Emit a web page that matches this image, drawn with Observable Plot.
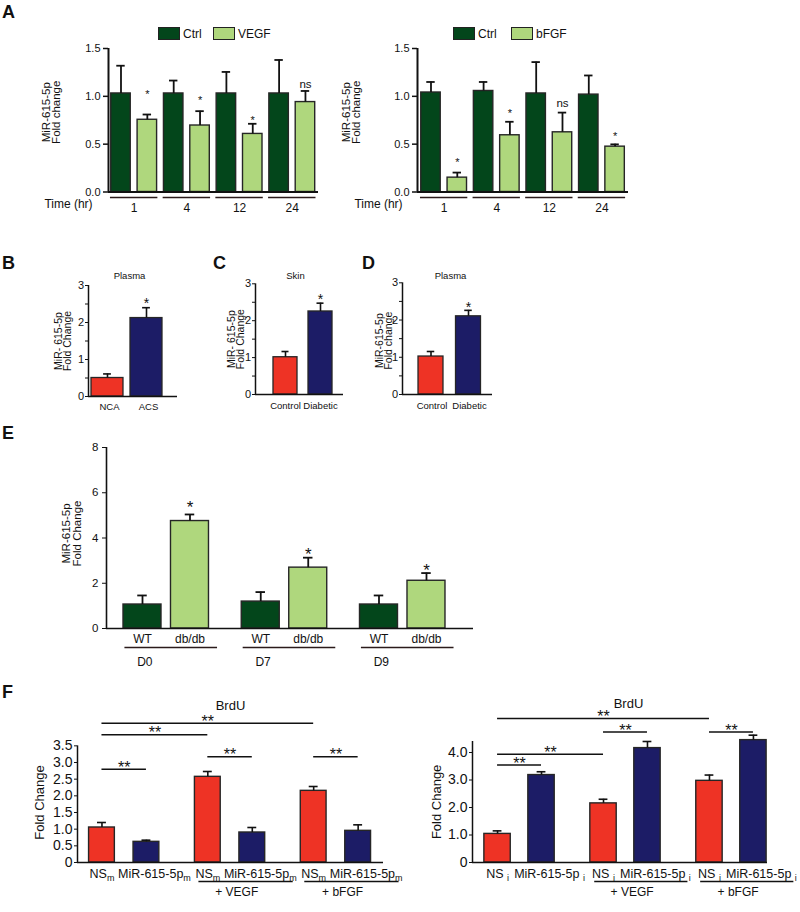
<!DOCTYPE html>
<html>
<head>
<meta charset="utf-8">
<script src="https://cdn.jsdelivr.net/npm/d3@7"></script>
<script src="https://cdn.jsdelivr.net/npm/@observablehq/plot@0.6"></script>
<style>
html,body{margin:0;padding:0;background:#fff;}
#fig{position:relative;width:800px;height:912px;overflow:hidden;font-family:"Liberation Sans",Arial,Helvetica,sans-serif;color:#111;}
.letter{position:absolute;font-weight:bold;font-size:18px;line-height:1;}
.sw{position:absolute;width:22px;height:13px;box-sizing:border-box;border:1.5px solid #222;}
.lg{position:absolute;font-size:12px;line-height:1;}
</style>
</head>
<body>
<div id="fig"></div>
<script>
// ================= DATA =================
// Panel A — MiR-615-5p fold change over time
const aTimes = ["1", "4", "12", "24"];
const aCtrlV = [1.03, 1.03, 1.03, 1.03];
const aCtrlVErr = [1.32, 1.165, 1.255, 1.38];
const aVEGF = [0.755, 0.695, 0.607, 0.94];
const aVEGFErr = [0.81, 0.845, 0.713, 1.056];
const aVEGFSig = ["*", "*", "*", "ns"];
const aVEGFSigY = [1.018, 0.96, 0.75, 1.10];
const aCtrlB = [1.04, 1.056, 1.03, 1.018];
const aCtrlBErr = [1.15, 1.15, 1.358, 1.218];
const aBFGF = [0.15, 0.593, 0.624, 0.474];
const aBFGFErr = [0.203, 0.734, 0.83, 0.498];
const aBFGFSig = ["*", "*", "ns", "*"];
const aBFGFSigY = [0.31, 0.82, 0.91, 0.58];

// Panel B — Plasma
const bLabels = ["NCA", "ACS"];
const bVals = [0.50, 2.12];
const bErr = [0.61, 2.40];
const bSig = ["", "*"];
const bSigY = [0, 2.61];
// Panel C — Skin
const cLabels = ["Control", "Diabetic"];
const cVals = [1.01, 2.25];
const cErr = [1.165, 2.475];
const cSig = ["", "*"];
const cSigY = [0, 2.68];
// Panel D — Plasma
const dLabels = ["Control", "Diabetic"];
const dVals = [1.02, 2.10];
const dErr = [1.155, 2.26];
const dSig = ["", "*"];
const dSigY = [0, 2.43];

// Panel E
const eDays = ["D0", "D7", "D9"];
const eGenos = ["WT", "db/db"];
const eWT = [1.06, 1.19, 1.06];
const eWTErr = [1.46, 1.61, 1.46];
const eDb = [4.75, 2.69, 2.11];
const eDbErr = [5.04, 3.13, 2.45];
const eSigY = [5.52, 3.45, 2.74];

// Panel F (left, mimic)
const fTreat = ["", "+ VEGF", "+ bFGF"];
const fCondL = ["NS_m", "MiR-615-5p_m"];
const fNSL = [1.05, 2.57, 2.15];
const fNSLErr = [1.20, 2.73, 2.28];
const fMiRL = [0.62, 0.90, 0.95];
const fMiRLErr = [0.67, 1.05, 1.13];
const fBrLFrom = [0, 0, 2, 4, 0];
const fBrLTo = [4, 2, 3, 5, 1];
const fBrLY = [4.18, 3.83, 3.17, 3.17, 2.80];
const fTicksL = [0, 0.5, 1, 1.5, 2, 2.5, 3, 3.5];
// Panel F (right, inhibitor)
const fCondR = ["NS _i", "MiR-615-5p _i"];
const fNSR = [1.04, 2.15, 2.97];
const fNSRErr = [1.15, 2.30, 3.18];
const fMiRR = [3.18, 4.16, 4.45];
const fMiRRErr = [3.30, 4.40, 4.63];
const fBrRFrom = [0, 2, 4, 0, 0];
const fBrRTo = [4, 3, 5, 2, 1];
const fBrRY = [5.24, 4.75, 4.75, 3.94, 3.55];
const fTicksR = [0, 1, 2, 3, 4];

// ================= STYLE / LAYOUT =================
const FONT = "'Liberation Sans', Arial, Helvetica, sans-serif";
const DARK = "#03461b", LIGHT = "#afd77d", RED = "#ee3325", NAVY = "#1c1c66";
const INK = "#111", EDGE = "#262626", ULINE = "#2b1b1b";
const fig = document.getElementById("fig");

function applySubscripts(svg) {
  svg.querySelectorAll("text").forEach(t => {
    if (t.children.length === 0 && t.textContent.includes("_")) {
      const [a, b] = t.textContent.split("_");
      t.textContent = a;
      const s = document.createElementNS("http://www.w3.org/2000/svg", "tspan");
      s.setAttribute("font-size", "0.72em");
      s.setAttribute("dy", "0.32em");
      s.textContent = b;
      t.appendChild(s);
    }
  });
}
function makePanel(c) {
  const svg = Plot.plot({
    width: c.width, height: c.height,
    marginLeft: c.axisX - c.left, marginRight: c.left + c.width - c.axisEnd,
    marginTop: c.yTopPx - c.top, marginBottom: c.top + c.height - c.yZeroPx,
    x: {type: "linear", domain: c.xDomain, axis: null},
    y: {type: "linear", domain: [0, c.yMax]},
    color: {type: "identity"},
    style: {fontFamily: FONT, fontSize: c.fontSize + "px", color: INK, background: "transparent", overflow: "visible"},
    marks: c.marks
  });
  Object.assign(svg.style, {position: "absolute", left: c.left + "px", top: c.top + "px", overflow: "visible"});
  applySubscripts(svg);
  fig.appendChild(svg);
}
function bars(rows, hw, cap, sw = 1.5, esw = 1.7) {
  return [
    Plot.rect(rows, {x1: d => d.pos - hw, x2: d => d.pos + hw, y1: () => 0, y2: d => d.v, fill: d => d.fill, stroke: EDGE, strokeWidth: sw}),
    Plot.ruleX(rows, {x: d => d.pos, y1: d => d.v, y2: d => d.e, stroke: INK, strokeWidth: esw}),
    Plot.ruleY(rows, {y: d => d.e, x1: d => d.pos - cap, x2: d => d.pos + cap, stroke: INK, strokeWidth: esw})
  ];
}
function axisLines(x0, yTop, sw) {
  return [
    Plot.ruleY([0], {stroke: INK, strokeWidth: sw}),
    Plot.ruleX([x0], {y1: () => 0, y2: () => yTop, stroke: INK, strokeWidth: sw})
  ];
}
function yLabel(txt, dx, dy, fs, lh) {
  return Plot.text([txt], {frameAnchor: "left", rotate: -90, text: d => d, dx, dy, fontSize: fs, lineHeight: lh, textAnchor: "middle", lineAnchor: "middle"});
}
function letter(t, x, y) {
  const d = document.createElement("div"); d.className = "letter"; d.textContent = t;
  d.style.left = x + "px"; d.style.top = y + "px"; fig.appendChild(d);
}
function legendItem(color, label, x, y) {
  const s = document.createElement("div"); s.className = "sw"; s.style.background = color;
  s.style.left = x + "px"; s.style.top = y + "px"; fig.appendChild(s);
  const t = document.createElement("div"); t.className = "lg"; t.textContent = label;
  t.style.left = (x + 25) + "px"; t.style.top = (y + 0.5) + "px"; fig.appendChild(t);
}

// ================= PANEL A =================
function panelA(cfg, ctrl, ctrlErr, trt, trtErr, sig, sigY, timeDx) {
  const rows = [], sigRows = [], groups = [];
  aTimes.forEach((t, i) => {
    rows.push({pos: 2 * i, v: ctrl[i], e: ctrlErr[i], fill: DARK});
    rows.push({pos: 2 * i + 1, v: trt[i], e: trtErr[i], fill: LIGHT});
    sigRows.push({pos: 2 * i + 1, y: sigY[i], t: sig[i]});
    groups.push({a: 2 * i, b: 2 * i + 1, label: t});
  });
  const hw = 0.37, cap = 0.16;
  makePanel({...cfg, yMax: 1.5, fontSize: 11, marks: [
    ...bars(rows, hw, cap, 1.4, 1.8),
    ...axisLines(cfg.xDomain[0], 1.5, 2),
    Plot.axisY([0, 0.5, 1, 1.5], {tickSize: 5, tickPadding: 3, tickFormat: ".1f", label: null, fontSize: 11, strokeWidth: 1.5}),
    Plot.text(sigRows.filter(d => d.t === "*"), {x: "pos", y: "y", text: "t", fontSize: 11, dy: 0}),
    Plot.text(sigRows.filter(d => d.t !== "*"), {x: "pos", y: "y", text: "t", fontSize: 11.5, dy: -2}),
    Plot.ruleY(groups, {y: () => 0, x1: d => d.a - hw - 0.03, x2: d => d.b + hw + 0.03, dy: 5.5, stroke: ULINE, strokeWidth: 1.6}),
    Plot.text(groups, {x: d => (d.a + d.b) / 2, y: () => 0, text: "label", dy: 16, fontSize: 12}),
    Plot.text(["Time (hr)"], {frameAnchor: "bottom-left", text: d => d, dx: timeDx, dy: 16, fontSize: 12, textAnchor: "middle"}),
    yLabel("MiR-615-5p\nFold change", cfg.ylDx, -8, 11.5, 0.95)
  ]});
}
panelA({left: 0, top: 40, width: 330, height: 185, axisX: 108, axisEnd: 318, yTopPx: 48, yZeroPx: 191.5, xDomain: [-0.474, 7.495], ylDx: -57},
  aCtrlV, aCtrlVErr, aVEGF, aVEGFErr, aVEGFSig, aVEGFSigY, -40);
panelA({left: 330, top: 40, width: 310, height: 185, axisX: 417, axisEnd: 628, yTopPx: 48, yZeroPx: 191.5, xDomain: [-0.513, 7.51], ylDx: -66},
  aCtrlB, aCtrlBErr, aBFGF, aBFGFErr, aBFGFSig, aBFGFSigY, -39);
legendItem(DARK, "Ctrl", 158, 27);
legendItem(LIGHT, "VEGF", 213, 27);
legendItem(DARK, "Ctrl", 453, 27);
legendItem(LIGHT, "bFGF", 511, 27);

// ================= PANELS B, C, D =================
function panelSmall(cfg, labels, vals, errs, sig, sigY, title, ylab) {
  const rows = labels.map((l, i) => ({pos: i, v: vals[i], e: errs[i], fill: i === 0 ? RED : NAVY, label: l, t: sig[i], y: sigY[i]}));
  makePanel({...cfg, yMax: 3, fontSize: 10, marks: [
    ...bars(rows, cfg.hw, cfg.cap, 1.3, 1.6),
    ...axisLines(cfg.xDomain[0], 3, 1.5),
    Plot.axisY([0, 1, 2, 3], {tickSize: 3, tickPadding: 1.5, tickFormat: "d", label: null, fontSize: 11}),
    Plot.axisY([0.5, 1.5, 2.5], {tickSize: 3, tickFormat: () => "", label: null}),
    Plot.text(rows.filter(d => d.t), {x: "pos", y: "y", text: "t", fontSize: 14, dy: 3.5}),
    Plot.text(rows, {x: "pos", y: () => 0, text: "label", dx: cfg.labDx, dy: cfg.labDy, fontSize: 9.5}),
    Plot.text([title], {frameAnchor: "top", text: d => d, dx: cfg.tDx, dy: cfg.tDy, fontSize: 9.5}),
    yLabel(ylab, cfg.ylDx, cfg.ylDy, 10.5, 0.85)
  ]});
}
panelSmall({left: 20, top: 262, width: 170, height: 155, axisX: 88, axisEnd: 177, yTopPx: 285, yZeroPx: 396, xDomain: [-0.487, 1.795], hw: 0.41, cap: 0.1, labDx: 2, labDy: 10.5, tDx: -3.5, tDy: -13, ylDx: -25, ylDy: 0},
  bLabels, bVals, bErr, bSig, bSigY, "Plasma", "MiR- 615-5p\nFold Change");
panelSmall({left: 200, top: 262, width: 155, height: 155, axisX: 255, axisEnd: 343, yTopPx: 283.3, yZeroPx: 394, xDomain: [-0.857, 1.657], hw: 0.343, cap: 0.1, labDx: 0, labDy: 11, tDx: -4, tDy: -11.3, ylDx: -18.5, ylDy: 0},
  cLabels, cVals, cErr, cSig, cSigY, "Skin", "MiR- 615-5p\nFold Change");
panelSmall({left: 350, top: 262, width: 155, height: 155, axisX: 402, axisEnd: 492, yTopPx: 282.3, yZeroPx: 394, xDomain: [-0.76, 1.64], hw: 0.333, cap: 0.1, labDx: 1, labDy: 11, tDx: 3, tDy: -10.3, ylDx: -18, ylDy: 2},
  dLabels, dVals, dErr, dSig, dSigY, "Plasma", "MiR-615-5p\nFold change");

// ================= PANEL E =================
(function () {
  const gs = 2.49, hw = 0.4, cap = 0.1;
  const rows = [], sigRows = [], groups = [];
  eDays.forEach((day, g) => {
    rows.push({pos: g * gs, v: eWT[g], e: eWTErr[g], fill: DARK, label: eGenos[0]});
    rows.push({pos: g * gs + 1, v: eDb[g], e: eDbErr[g], fill: LIGHT, label: eGenos[1]});
    sigRows.push({pos: g * gs + 1, y: eSigY[g]});
    groups.push({a: g * gs, b: g * gs + 1, label: day});
  });
  makePanel({left: 20, top: 436, width: 470, height: 240, axisX: 106, axisEnd: 473, yTopPx: 447, yZeroPx: 628, xDomain: [-0.758, 6.97], yMax: 8, fontSize: 11, marks: [
    ...bars(rows, hw, cap, 1.4, 1.8),
    ...axisLines(-0.758, 8, 1.6),
    Plot.axisY([0, 2, 4, 6, 8], {tickSize: 4, tickPadding: 4, tickFormat: "d", label: null, fontSize: 11.5}),
    Plot.text(sigRows, {x: "pos", y: "y", text: () => "*", fontSize: 17, dy: 4.3}),
    Plot.text(rows, {x: "pos", y: () => 0, text: "label", dy: 10.5, fontSize: 12}),
    Plot.ruleY(groups, {y: () => 0, x1: d => d.a - 0.37, x2: d => d.b + 0.58, dy: 19, stroke: ULINE, strokeWidth: 1.5}),
    Plot.text(groups, {x: d => d.a + 0.05, y: () => 0, text: "label", dy: 34, fontSize: 12}),
    yLabel("MiR-615-5p\nFold Change", -34.5, -4.5, 11.5, 0.95)
  ]});
})();

// ================= PANEL F =================
function panelF(cfg, cond, ns, nsErr, mir, mirErr, brFrom, brTo, brY, ticks, axisTop, yMax) {
  const gs = cfg.gs, hw = cfg.hw, cap = 0.1;
  const rows = [], groups = [];
  const posOf = i => Math.floor(i / 2) * gs + (i % 2);
  fTreat.forEach((tr, g) => {
    rows.push({pos: g * gs, v: ns[g], e: nsErr[g], fill: RED, label: cond[0], k: 0});
    rows.push({pos: g * gs + 1, v: mir[g], e: mirErr[g], fill: NAVY, label: cond[1], k: 1});
    if (tr) groups.push({a: g * gs, b: g * gs + 1, label: tr});
  });
  const br = brFrom.map((f, i) => ({x1: posOf(f), x2: posOf(brTo[i]), y: brY[i]}));
  makePanel({...cfg, yMax, fontSize: 13, marks: [
    ...bars(rows, hw, cap, 1.4, 1.6),
    ...axisLines(cfg.xDomain[0], axisTop, 1.5),
    Plot.axisY(ticks, {tickSize: 3, tickPadding: 2, tickFormat: d => d === 0 ? "0" : d.toFixed(1), label: null, fontSize: 14}),
    Plot.ruleY(br, {x1: "x1", x2: "x2", y: "y", stroke: INK, strokeWidth: 1.5}),
    Plot.text(br, {x: d => (d.x1 + d.x2) / 2, y: "y", text: () => "**", fontSize: 16, dy: -1.5}),
    Plot.text(rows.filter(d => d.k === 0), {x: "pos", y: () => 0, text: "label", dy: 11.5, fontSize: 12.5}),
    Plot.text(rows.filter(d => d.k === 1), {x: "pos", y: () => 0, text: "label", dx: 8, dy: 11.5, fontSize: 12.5}),
    Plot.ruleY(groups, {y: () => 0, x1: d => d.a - 0.2, x2: d => d.b + 0.92, dy: 19, stroke: INK, strokeWidth: 1.5}),
    Plot.text(groups, {x: d => (d.a + d.b) / 2 + 0.15, y: () => 0, text: "label", dy: 30, fontSize: 12}),
    Plot.text(["BrdU"], {frameAnchor: "top", text: d => d, dx: cfg.tDx, dy: -12, fontSize: 13}),
    yLabel("Fold Change", cfg.ylDx, 15, 13, 1)
  ]});
}
panelF({left: 10, top: 690, width: 400, height: 222, axisX: 77, axisEnd: 383, yTopPx: 712, yZeroPx: 862, xDomain: [-0.55, 6.33], gs: 2.38, hw: 0.29, tDx: 0, ylDx: -38},
  fCondL, fNSL, fNSLErr, fMiRL, fMiRLErr, fBrLFrom, fBrLTo, fBrLY, fTicksL, 3.5, 4.5);
panelF({left: 410, top: 690, width: 390, height: 222, axisX: 472, axisEnd: 767, yTopPx: 710.75, yZeroPx: 862, xDomain: [-0.57, 6.14], gs: 2.41, hw: 0.3, tDx: 8.5, ylDx: -36},
  fCondR, fNSR, fNSRErr, fMiRR, fMiRRErr, fBrRFrom, fBrRTo, fBrRY, fTicksR, 4.4, 5.5);

// ================= PANEL LETTERS =================
letter("A", 2, 3);
letter("B", 2, 254);
letter("C", 213, 254);
letter("D", 362, 254);
letter("E", 2, 424);
letter("F", 2, 683);
</script>
</body>
</html>
